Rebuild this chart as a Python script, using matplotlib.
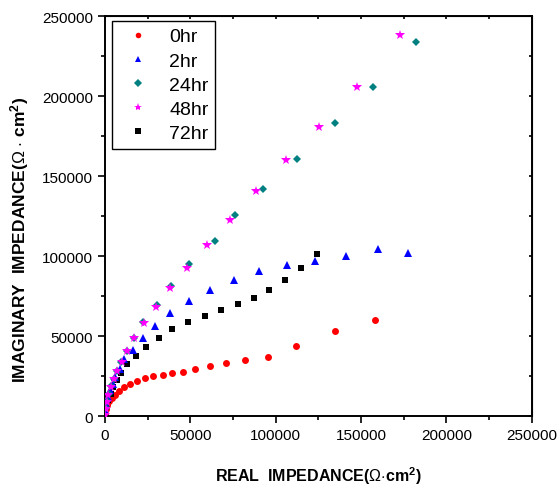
import matplotlib
matplotlib.use("Agg")
import matplotlib.pyplot as plt

plt.rcParams.update({
    "font.family": "Liberation Sans",
    "mathtext.fontset": "custom",
    "mathtext.rm": "Liberation Sans",
    "mathtext.it": "Liberation Sans:italic",
    "mathtext.bf": "Liberation Sans:bold",
})

# 0hr
x0 = [0, 390, 1170, 2340, 3900, 5850, 8385, 11310, 14820, 18720, 23205, 28275,
      33930, 39390, 46020, 53040, 61425, 71175, 82290, 95745, 112125, 134550, 158145]
y0 = [1460, 4170, 6670, 9170, 11250, 13330, 15620, 17910, 20000, 21870, 23540, 24790,
      25830, 26660, 27700, 29370, 31040, 33120, 34790, 37080, 43540, 52900, 59785]
# 2hr
x2 = [195, 780, 1755, 2925, 4485, 6045, 8580, 11310, 16575, 22230, 29445, 38415,
      49140, 61815, 75660, 90480, 106665, 123240, 141180, 160095, 177450]
y2 = [3540, 7700, 11870, 16040, 20200, 24370, 29580, 35620, 41450, 48740, 56450, 64150,
      71650, 78950, 85200, 90610, 94570, 96860, 99780, 104570, 102070]
# 24hr
x24 = [390, 1170, 2340, 3510, 5265, 6825, 9165, 12675, 17160, 22035, 30225, 38805,
       49140, 64545, 76440, 92625, 112710, 134745, 157170, 182325]
y24 = [5000, 9370, 13960, 18540, 23330, 27910, 33750, 40620, 48950, 58740, 69160, 81030,
       94780, 109150, 125600, 141860, 160400, 182900, 205600, 233720]
# 48hr
x48 = [0, 390, 975, 1950, 3315, 5070, 7215, 9750, 13065, 17160, 22620, 29835, 38415,
       48165, 60060, 73515, 88725, 105885, 125580, 147420, 172770]
y48 = [830, 4170, 8750, 13330, 18120, 23120, 28120, 33750, 40620, 48740, 58120, 68110,
       79990, 92690, 106860, 122480, 140400, 160190, 181000, 205800, 238300]
# 72hr
x72 = [780, 1755, 3315, 4875, 6825, 9555, 13065, 17940, 23790, 31395, 39585, 48945,
       58695, 68250, 77805, 87165, 96330, 105300, 114660, 124020]
y72 = [5620, 9790, 13960, 18120, 22500, 26870, 32290, 37490, 43330, 48950, 54160, 58740,
       62490, 66030, 69780, 73530, 78530, 84780, 92490, 101440]

fig = plt.figure(figsize=(5.58, 4.89), dpi=100)
ax = fig.add_axes([0.188, 0.147, 0.765, 0.818])

h0, = ax.plot(x0, y0, "o", color="#ff0000", ms=5.0, mew=0, zorder=2, label="0hr")
h72, = ax.plot(x72, y72, "s", color="black", ms=4.8, mew=0, zorder=3, label="72hr")
h2, = ax.plot(x2, y2, "^", color="#0000ff", ms=6.0, mew=0, zorder=4, label="2hr")
h24, = ax.plot(x24, y24, "D", color="#008080", ms=4.5, mew=0, zorder=5, label="24hr")
h48, = ax.plot(x48, y48, "*", color="#ff00ff", ms=7.5, mew=0, zorder=6, label="48hr")

ax.set_xlim(0, 250000)
ax.set_ylim(0, 250000)
ticks = range(0, 250001, 50000)
minor = range(25000, 250000, 50000)
ax.set_xticks(ticks)
ax.set_yticks(ticks)
ax.set_xticks(minor, minor=True)
ax.set_yticks(minor, minor=True)
ax.tick_params(which="both", direction="out", labelsize=11, width=1.2)
ax.tick_params(which="major", length=5)
ax.tick_params(which="minor", length=3)
for s in ax.spines.values():
    s.set_linewidth(1.4)

# tiny inward ticks on top / right
top = ax.secondary_xaxis("top")
right = ax.secondary_yaxis("right")
for sec in (top, right):
    sec.tick_params(which="both", direction="in", length=2, width=1.2,
                    labeltop=False, labelright=False)
top.set_xticks(list(ticks) + list(minor))
right.set_yticks(list(ticks) + list(minor))
top.set_xticklabels([])
right.set_yticklabels([])

ax.set_xlabel(r"REAL  IMPEDANCE($\mathit{\Omega}$$\cdot$cm$^\mathbf{2}$)",
              fontsize=11.5, fontweight="bold", labelpad=16)
ax.set_ylabel(r"IMAGINARY  IMPEDANCE($\Omega$ $\cdot$ cm$^\mathbf{2}$)",
              fontsize=12.5, fontweight="bold")
ax.yaxis.set_label_coords(-0.172, 0.443)

leg = ax.legend(handles=[h0, h2, h24, h48, h72], loc="upper left",
                bbox_to_anchor=(0.016, 0.988), borderaxespad=0, fontsize=14,
                fancybox=False, edgecolor="black", framealpha=1, markerscale=0.8,
                handletextpad=0.6, borderpad=0.35, labelspacing=0.34,
                handlelength=2.0)
leg.get_frame().set_linewidth(1.0)

fig.savefig("out.png", dpi=100)
